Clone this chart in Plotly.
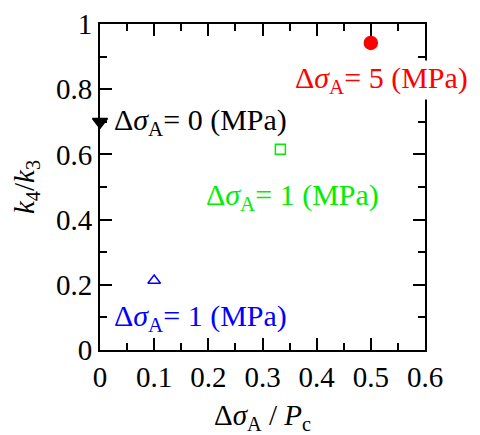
import plotly.graph_objects as go

# data
x_vals = [0.0, 0.1, 0.333, 0.5]
y_vals = [0.70, 0.213, 0.616, 0.942]
symbols = ["triangle-down", "triangle-up-open", "square-open", "circle"]
colors = ["black", "blue", "#00ee00", "red"]
sizes = [13, 11, 10, 13]

label_texts = [
    "Δ<i>σ</i><sub>A</sub>= 0 (MPa)",
    "Δ<i>σ</i><sub>A</sub>= 1 (MPa)",
    "Δ<i>σ</i><sub>A</sub>= 1 (MPa)",
    "Δ<i>σ</i><sub>A</sub>= 5 (MPa)",
]
label_x = [0.024, 0.024, 0.194, 0.358]
label_y = [0.70, 0.097, 0.47, 0.828]

x_ticks = [0, 0.1, 0.2, 0.3, 0.4, 0.5, 0.6]
x_ticklabels = ["0", "0.1", "0.2", "0.3", "0.4", "0.5", "0.6"]
y_ticks = [0, 0.2, 0.4, 0.6, 0.8, 1.0]
y_ticklabels = ["0", "0.2", "0.4", "0.6", "0.8", "1"]

FONT = "Liberation Serif"

fig = go.Figure()
for xv, yv, s, c, sz in zip(x_vals, y_vals, symbols, colors, sizes):
    fig.add_trace(go.Scatter(
        x=[xv], y=[yv], mode="markers", cliponaxis=False,
        marker=dict(symbol=s, color=c, size=sz, line=dict(color=c, width=1.5)),
        showlegend=False,
    ))

for t, lx, ly, c in zip(label_texts, label_x, label_y, colors):
    fig.add_annotation(
        x=lx, y=ly, xref="x", yref="y", text=t, showarrow=False,
        xanchor="left", yanchor="middle",
        font=dict(family=FONT, size=30, color=c),
        bgcolor="white" if c == "red" else "rgba(0,0,0,0)",
        borderpad=0,
    )

axis_common = dict(
    showline=True, linecolor="black", linewidth=2, mirror="allticks",
    ticks="inside", ticklen=12, tickwidth=2, tickcolor="black",
    showgrid=False, zeroline=False, automargin=False,
    tickfont=dict(family=FONT, size=29, color="black"),
)

fig.update_xaxes(
    range=[0, 0.6], tickvals=x_ticks, ticktext=x_ticklabels,
    minor=dict(ticks="inside", ticklen=7, tickwidth=2, tickcolor="black", dtick=0.05, tick0=0),
    title=dict(text="Δ<i>σ</i><sub>A</sub> / <i>P</i><sub>c</sub>",
               font=dict(family=FONT, size=29, color="black"), standoff=25),
    **axis_common,
)
fig.update_yaxes(
    range=[0, 1], tickvals=y_ticks, ticktext=y_ticklabels,
    minor=dict(ticks="inside", ticklen=7, tickwidth=2, tickcolor="black", dtick=0.1, tick0=0),
    title=dict(text="<i>k</i><sub>4</sub>/<i>k</i><sub>3</sub>",
               font=dict(family=FONT, size=29, color="black"), standoff=17),
    **axis_common,
)

fig.update_layout(
    width=472, height=427,
    margin=dict(l=92, r=55, t=16, b=85),
    plot_bgcolor="white", paper_bgcolor="white",
    font=dict(family=FONT),
)

fig.write_html("out.html")
